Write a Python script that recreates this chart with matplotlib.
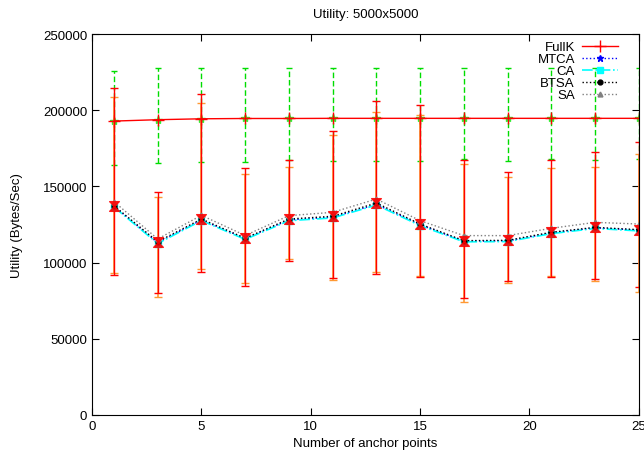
import numpy as np
import matplotlib.pyplot as plt
from matplotlib.path import Path

plt.rcParams['font.family'] = ['Liberation Sans', 'DejaVu Sans']

# anchor points
anchors = [1, 3, 5, 7, 9, 11, 13, 15, 17, 19, 21, 23, 25]

# series values (Bytes/Sec)
fullk = [192900, 193800, 194400, 194600, 194600, 194700, 194700, 194700, 194700, 194700, 194700, 194700, 194700]
mtca = [137000, 113000, 128000, 115800, 128000, 129800, 138200, 124800, 114000, 114200, 119500, 122800, 121300]
ca = [136500, 112500, 127600, 115200, 127500, 129300, 137800, 124300, 113600, 113800, 119000, 122400, 120800]
btsa = [137300, 113700, 128600, 116000, 128600, 130400, 139100, 125300, 114400, 114600, 119900, 123100, 121600]
sa = [140000, 115500, 131000, 117800, 130800, 133000, 141700, 127500, 117700, 117700, 122500, 126400, 125300]

# FullK spread (green bars)
fullk_lo = [164200, 165400, 165800, 165800, 167500, 166400, 166400, 166400, 168000, 166900, 168000, 167500, 168000]
fullk_hi = [226000, 227700, 227700, 227700, 227700, 227700, 227700, 227700, 227700, 227700, 227700, 227700, 227700]

# spread of the other algorithms (red / orange bars)
red_lo = [91700, 79900, 94000, 84900, 101300, 89700, 92500, 90300, 76800, 88100, 90300, 89200, 83800]
red_hi = [214400, 146100, 210400, 161900, 167300, 186200, 206300, 203600, 167500, 159700, 167500, 172800, 178900]
org_lo = [93000, 77400, 95500, 86500, 102500, 88500, 93500, 91500, 73900, 86600, 91500, 88000, 80700]
org_hi = [208500, 143000, 204700, 158100, 163000, 184000, 199000, 197000, 165000, 156000, 162000, 162500, 171300]

fig = plt.figure(figsize=(6.44, 4.56), dpi=100)
ax = fig.add_axes([0.143, 0.088, 0.849, 0.835])

x = np.array(anchors)
fk = np.array(fullk)
bt = np.array(btsa)

bowtie = Path([(-1, 1), (1, 1), (-1, -1), (1, -1), (-1, 1)],
              [Path.MOVETO, Path.LINETO, Path.LINETO, Path.LINETO, Path.CLOSEPOLY])

# green spread around FullK
eb = ax.errorbar(x, fk, yerr=[fk - np.array(fullk_lo), np.array(fullk_hi) - fk],
                 fmt='none', ecolor='#00dd00', elinewidth=1, capsize=2)
for lc in eb[2]:
    lc.set_linestyle((0, (4, 2)))
ax.plot(x, fk, ls='none', marker='*', color='#33ee33', ms=6)

# orange and red spread around the lower group
ax.errorbar(x, bt, yerr=[bt - np.array(org_lo), np.array(org_hi) - bt],
            fmt='none', ecolor='#ff9933', elinewidth=1.2, capsize=3)
ax.errorbar(x, bt, yerr=[bt - np.array(red_lo), np.array(red_hi) - bt],
            fmt='none', ecolor='#ff0000', elinewidth=1, capsize=3)

ax.plot(x, fullk, color='red', lw=1, marker='+', ms=8, label='FullK')
ax.plot(x, mtca, color='blue', lw=1, ls=':', marker='*', ms=5, label='MTCA')
ax.plot(x, ca, color='cyan', lw=1.2, ls='-.', marker='s', ms=4, label='CA')
ax.plot(x, btsa, color='black', lw=1, ls=':', marker='o', ms=3.5, label='BTSA')
ax.plot(x, sa, color='gray', lw=1, ls=':', marker='^', ms=3.5, label='SA')
ax.plot(x, bt, ls='none', marker=bowtie, color='red', ms=7, alpha=0.85)

ax.set_xlim(0, 25)
ax.set_ylim(0, 250000)
ax.set_xticks(range(0, 26, 5))
ax.set_yticks(range(0, 250001, 50000))
ax.tick_params(direction='in', top=True, right=True, labelsize=9.5, length=5)
ax.set_xlabel('Number of anchor points', fontsize=9.5, labelpad=4)
ax.set_ylabel('Utility (Bytes/Sec)', fontsize=9.5, labelpad=14)
ax.set_title('Utility: 5000x5000', fontsize=9.5, pad=12)

ax.legend(loc='upper right', bbox_to_anchor=(0.97, 0.992), frameon=False,
          markerfirst=False, fontsize=9.5, handlelength=2.8, handleheight=0.5,
          labelspacing=0.0, borderaxespad=0, borderpad=0.3, handletextpad=0.5)

fig.savefig('out.png', dpi=100)
